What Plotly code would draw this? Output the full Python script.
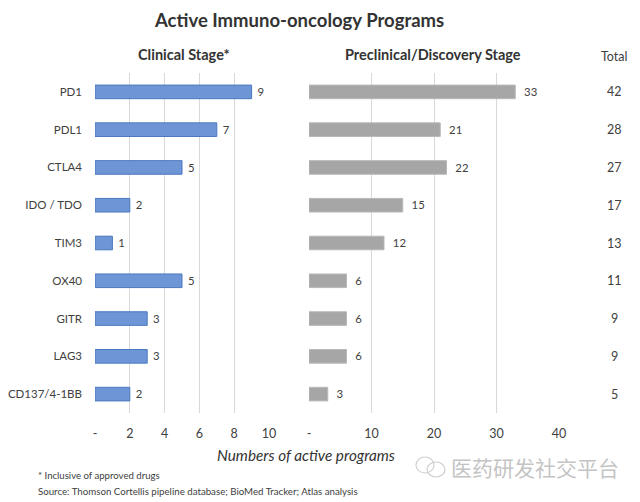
import plotly.graph_objects as go

categories = ["PD1", "PDL1", "CTLA4", "IDO / TDO", "TIM3", "OX40", "GITR", "LAG3", "CD137/4-1BB"]
clinical = [9, 7, 5, 2, 1, 5, 3, 3, 2]
preclinical = [33, 21, 22, 15, 12, 6, 6, 6, 3]
totals = [42, 28, 27, 17, 13, 11, 9, 9, 5]

left_ticks = [0, 2, 4, 6, 8, 10]
left_ticktext = ["-", "2", "4", "6", "8", "10"]
right_ticks = [0, 10, 20, 30, 40]
right_ticktext = ["-", "10", "20", "30", "40"]

W, H = 640, 502
FONT = "Lato"
TXT = "#404040"

def px(x):
    return x / W

def py(y):
    return 1 - y / H

fig = go.Figure()
fig.add_trace(go.Bar(
    y=categories, x=clinical, orientation="h", xaxis="x", yaxis="y",
    marker=dict(color="#6E96D6", line=dict(color="#4A78BE", width=1)),
    width=0.36,
    text=[f" {v}" for v in clinical], textposition="outside", cliponaxis=False,
    textfont=dict(family=FONT, size=12.5, color=TXT),
))
fig.add_trace(go.Bar(
    y=categories, x=preclinical, orientation="h", xaxis="x2", yaxis="y",
    marker=dict(color="#A6A6A6", line=dict(color="#B8B8B8", width=1)),
    width=0.36,
    text=[f"  {v}" for v in preclinical], textposition="outside", cliponaxis=False,
    textfont=dict(family=FONT, size=12.5, color=TXT),
))

def ann(x, y, text, size, color=TXT, xanchor="center", yref="paper", family=FONT):
    return dict(x=x, y=y, xref="paper", yref=yref, text=text, showarrow=False,
                xanchor=xanchor, yanchor="middle",
                font=dict(family=family, size=size, color=color))

annotations = [ann(px(614), c, str(t), 12.5, yref="y") for c, t in zip(categories, totals)]

annotations += [
    ann(px(299), py(20), "<b>Active Immuno-oncology Programs</b>", 18.5, "#333333"),
    ann(px(184), py(54), "<b>Clinical Stage*</b>", 14.5, "#333333"),
    ann(px(433), py(54), "<b>Preclinical/Discovery Stage</b>", 14.5, "#333333"),
    ann(px(614), py(56), "Total", 12.5),
    ann(px(306), py(455), "<i>Numbers of active programs</i>", 15.3, "#333333"),
    ann(px(36), py(475), "* Inclusive of approved drugs", 9.6, xanchor="left"),
    ann(px(36), py(491), "Source: Thomson Cortellis pipeline database; BioMed Tracker; Atlas analysis", 9.7, xanchor="left"),
    ann(px(535), py(467), "医药研发社交平台", 21, "#C4C4C4", family="Noto Sans CJK SC"),
]

shapes = [
    dict(type="circle", xref="paper", yref="paper",
         x0=px(416), x1=px(434), y0=py(473), y1=py(457), line=dict(color="#CFCFCF", width=1.2)),
    dict(type="circle", xref="paper", yref="paper",
         x0=px(427), x1=px(445), y0=py(477), y1=py(462), line=dict(color="#CFCFCF", width=1.2)),
]

axis_common = dict(showgrid=True, gridcolor="#D9D9D9", gridwidth=1, zeroline=False,
                   showline=False, ticks="", tickfont=dict(family=FONT, size=12.5, color=TXT),
                   fixedrange=True, automargin=False, ticklabelstandoff=11)

fig.update_layout(
    width=W, height=H, margin=dict(l=0, r=0, t=0, b=0, autoexpand=False),
    paper_bgcolor="white", plot_bgcolor="white", showlegend=False,
    xaxis=dict(domain=[px(95), px(269)], range=[0, 10], tickvals=left_ticks, ticktext=left_ticktext,
               anchor="y", **axis_common),
    xaxis2=dict(domain=[px(309), px(559)], range=[0, 40], tickvals=right_ticks, ticktext=right_ticktext,
                anchor="y", **axis_common),
    yaxis=dict(domain=[py(413), py(73)], autorange="reversed", showgrid=False, zeroline=False,
               ticks="", tickfont=dict(family=FONT, size=11.5, color=TXT), anchor="x",
               ticklabelstandoff=12, fixedrange=True, automargin=False),
    annotations=annotations, shapes=shapes,
    bargap=0.6,
)

fig.write_html("out.html", config={"displayModeBar": False},
               post_script="document.body.style.margin='0';document.body.style.padding='0';document.body.style.overflow='hidden';")
